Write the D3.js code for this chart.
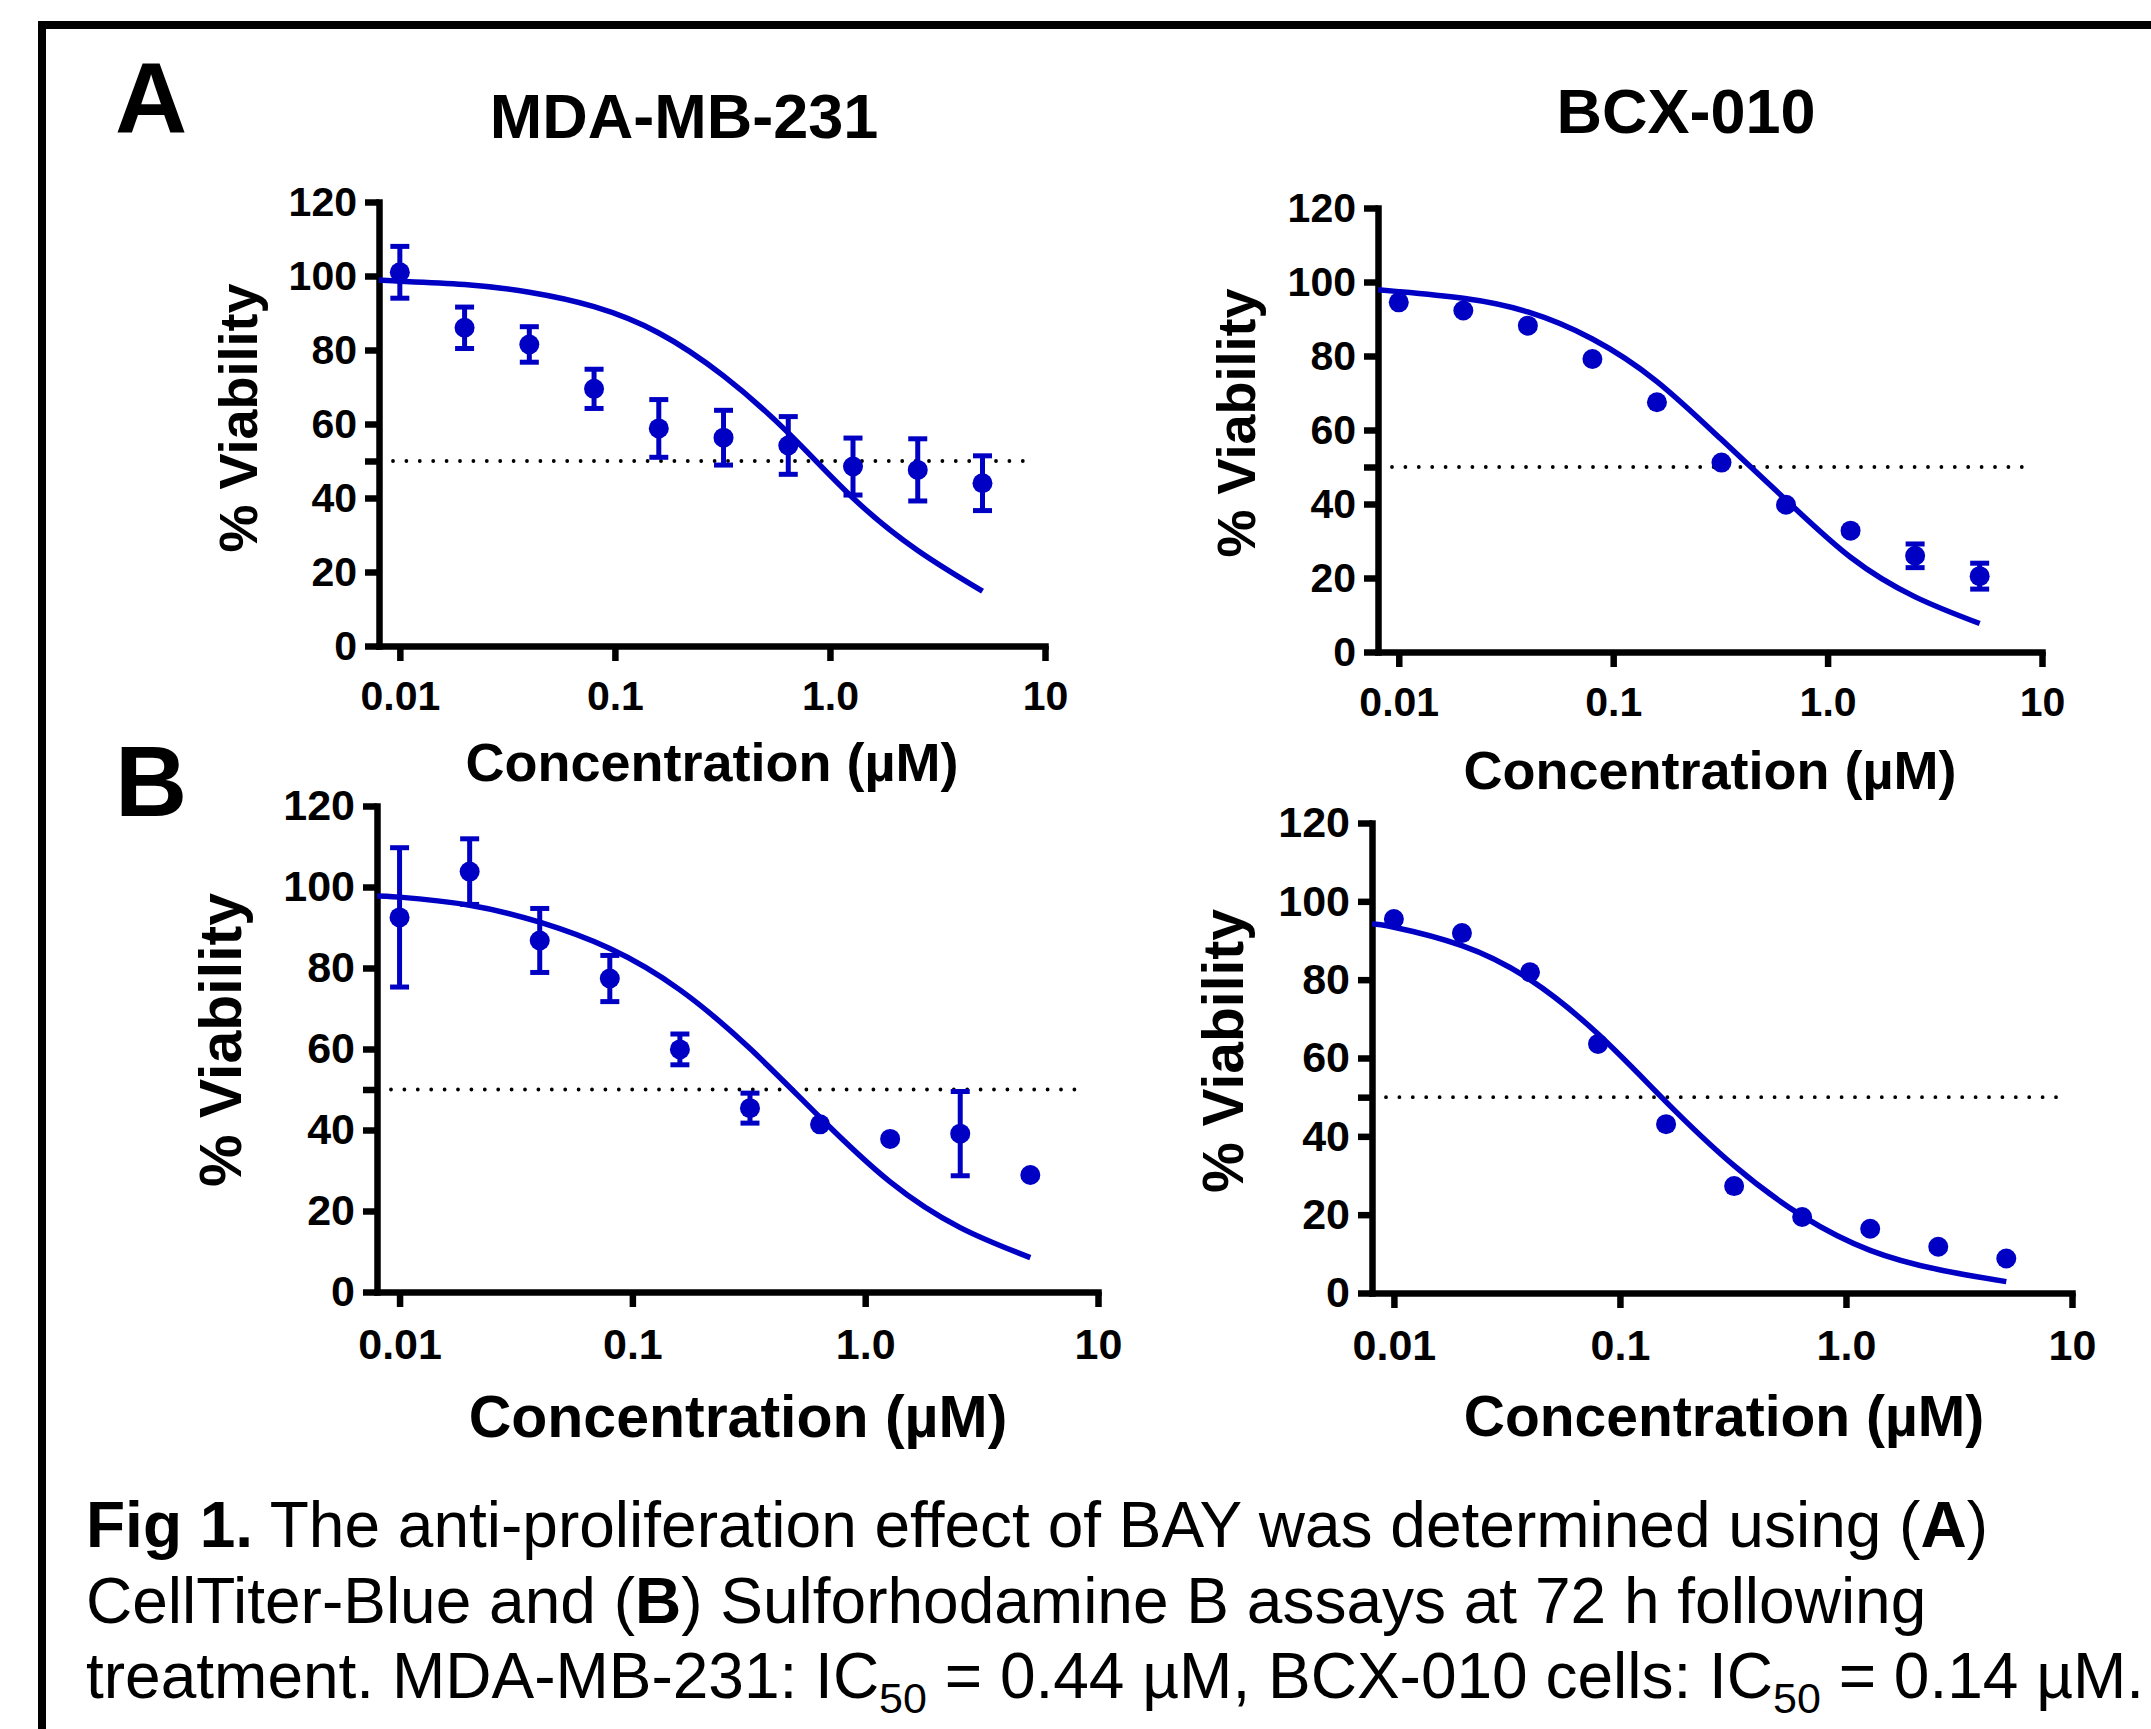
<!DOCTYPE html>
<html lang="en">
<head>
<meta charset="UTF-8">
<title>Fig 1. BAY anti-proliferation</title>
<script src="https://d3js.org/d3.v7.min.js"></script>
<style>
  body { margin: 0; background: #fff; }
  svg { display: block; font-family: "Liberation Sans", Arial, sans-serif; }
</style>
</head>
<body>
<div id="chart"></div>
<script>
// concentrations (uM), same dilution series in every panel
const conc = [0.01, 0.02, 0.04, 0.08, 0.16, 0.32, 0.64, 1.28, 2.56, 5.12];

// A: CellTiter-Blue
const mdaCtbMean = [101, 86, 81.5, 69.5, 58.8, 56.3, 54.2, 48.5, 47.6, 44];
const mdaCtbErr  = [7, 5.6, 4.8, 5.3, 7.8, 7.4, 7.8, 7.7, 8.4, 7.4];
const bcxCtbMean = [94.5, 92.3, 88.2, 79.2, 67.5, 51.2, 39.8, 32.8, 26, 20.5];
const bcxCtbErr  = [1.5, 1.5, 1.5, 1.5, 1.5, 1.5, 1.5, 1.5, 3.2, 3.5];
// B: Sulforhodamine B
const mdaSrbMean = [92.5, 103.8, 86.8, 77.4, 59.9, 45.4, 41.4, 37.8, 39.1, 28.9];
const mdaSrbErr  = [17.2, 8.1, 7.9, 5.7, 3.8, 3.7, 1.5, 1.5, 10.4, 1.5];
const bcxSrbMean = [95.5, 91.9, 81.9, 63.6, 43.1, 27.3, 19.4, 16.4, 11.8, 8.8];
const bcxSrbErr  = [1.5, 1.5, 1.5, 1.5, 1.5, 1.5, 1.5, 1.5, 1.5, 1.5];

// dose-response fits
const fitConc   = [0.008, 0.01, 0.02, 0.04, 0.08, 0.16, 0.32, 0.64, 1.28, 2.56, 5.12];
const mdaCtbFit = [98.9, 98.6, 97.7, 95.6, 91.7, 84.6, 73, 57.6, 40, 25.8, 14.8];
const bcxCtbFit = [97.9, 97.4, 95.6, 91.9, 84.6, 73.1, 57.4, 41.1, 25.6, 14.9, 7.7];
const mdaSrbFit = [97.8, 97.5, 95.5, 91.3, 84.8, 74.6, 60.1, 43.1, 27.2, 15.9, 8.5];
const bcxSrbFit = [94.2, 93.4, 88.7, 80, 66.1, 48.8, 32.5, 19.7, 10.9, 6, 2.9];

const xTicks = [0.01, 0.1, 1, 10];
const xTickLabels = ["0.01", "0.1", "1.0", "10"];
const yTicks = [0, 20, 40, 50, 60, 80, 100, 120];   // 50 has a tick but no label
const halfLine = 50;
const xDomain = [0.008, 10];
const dottedEnd = 9;

const W = 2151, H = 1729;
const blue = "#0000c4";
const dotR = 10;

const svg = d3.select("#chart").append("svg")
  .attr("width", W).attr("height", H);

// outer frame (cut off at right and bottom like the original)
svg.append("rect")
  .attr("x", 42).attr("y", 25)
  .attr("width", 2300).attr("height", 2000)
  .attr("fill", "none").attr("stroke", "#000").attr("stroke-width", 8);

const panels = [
  { mean: mdaCtbMean, err: mdaCtbErr, fit: mdaCtbFit, title: "MDA-MB-231",
    x0: 379, x1: 1045, yTop: 202, yBot: 646, tickFont: 41, labelFont: 54,
    titleX: 684, titleY: 138, xLab: [712, 781], yLab: [257, 418], xPad: 20 },
  { mean: bcxCtbMean, err: bcxCtbErr, fit: bcxCtbFit, title: "BCX-010",
    x0: 1378, x1: 2042, yTop: 208, yBot: 652, tickFont: 41, labelFont: 54,
    titleX: 1686, titleY: 133, xLab: [1710, 789], yLab: [1255, 423], xPad: 20 },
  { mean: mdaSrbMean, err: mdaSrbErr, fit: mdaSrbFit, title: null,
    x0: 377, x1: 1098, yTop: 806, yBot: 1292, tickFont: 43, labelFont: 59,
    xLab: [738, 1437], yLab: [241, 1040], xPad: 21 },
  { mean: bcxSrbMean, err: bcxSrbErr, fit: bcxSrbFit, title: null,
    x0: 1372, x1: 2072, yTop: 823, yBot: 1293, tickFont: 43, labelFont: 57,
    xLab: [1724, 1436], yLab: [1243, 1051], xPad: 21 }
];

function drawPanel(p) {
  const x = d3.scaleLog().domain(xDomain).range([p.x0, p.x1]);
  const y = d3.scaleLinear().domain([0, 120]).range([p.yBot, p.yTop]);
  const g = svg.append("g");

  // 50% reference line
  g.append("line")
    .attr("x1", x(xDomain[0]) + 14).attr("x2", x(dottedEnd))
    .attr("y1", y(halfLine)).attr("y2", y(halfLine))
    .attr("stroke", "#000").attr("stroke-width", 3.8)
    .attr("stroke-linecap", "round")
    .attr("stroke-dasharray", "0 13.4");

  // axes
  const yAxis = d3.axisLeft(y).tickValues(yTicks)
    .tickFormat(d => d === halfLine ? "" : d)
    .tickSize(14).tickSizeOuter(0).tickPadding(8);
  const xAxis = d3.axisBottom(x).tickValues(xTicks)
    .tickFormat((d, i) => xTickLabels[i])
    .tickSize(15).tickSizeOuter(0).tickPadding(p.xPad);

  const ya = g.append("g").attr("transform", `translate(${p.x0},0)`).call(yAxis);
  const xa = g.append("g").attr("transform", `translate(0,${p.yBot})`).call(xAxis);
  [ya, xa].forEach(a => {
    a.select(".domain").attr("stroke-width", 6.5).attr("stroke-linecap", "square");
    a.selectAll(".tick line").attr("stroke-width", 6.5);
    a.selectAll(".tick text")
      .attr("font-family", '"Liberation Sans", Arial, sans-serif')
      .attr("font-size", p.tickFont).attr("font-weight", "bold").attr("fill", "#000");
  });

  // fitted curve
  const line = d3.line()
    .x(d => x(d[0])).y(d => y(d[1]))
    .curve(d3.curveNatural);
  g.append("path")
    .datum(fitConc.map((c, i) => [c, p.fit[i]]))
    .attr("d", line)
    .attr("fill", "none").attr("stroke", blue).attr("stroke-width", 5.5);

  // error bars (hidden when shorter than the symbol)
  const pts = conc.map((c, i) => ({ c, m: p.mean[i], e: p.err[i] }));
  const bars = g.selectAll(".eb").data(pts.filter(d => y(d.m - d.e) - y(d.m) > dotR))
    .join("g").attr("class", "eb")
    .attr("stroke", blue).attr("stroke-width", 5);
  bars.append("line")
    .attr("x1", d => x(d.c)).attr("x2", d => x(d.c))
    .attr("y1", d => y(d.m + d.e)).attr("y2", d => y(d.m - d.e));
  bars.append("line")
    .attr("x1", d => x(d.c) - 9.5).attr("x2", d => x(d.c) + 9.5)
    .attr("y1", d => y(d.m + d.e)).attr("y2", d => y(d.m + d.e));
  bars.append("line")
    .attr("x1", d => x(d.c) - 9.5).attr("x2", d => x(d.c) + 9.5)
    .attr("y1", d => y(d.m - d.e)).attr("y2", d => y(d.m - d.e));

  // mean points
  g.selectAll(".pt").data(pts).join("circle").attr("class", "pt")
    .attr("cx", d => x(d.c)).attr("cy", d => y(d.m))
    .attr("r", dotR).attr("fill", blue);

  // labels
  g.append("text")
    .attr("x", p.xLab[0]).attr("y", p.xLab[1])
    .attr("text-anchor", "middle").attr("font-size", p.labelFont).attr("font-weight", "bold")
    .text("Concentration (µM)");
  g.append("text")
    .attr("transform", `translate(${p.yLab[0]},${p.yLab[1]}) rotate(-90)`)
    .attr("text-anchor", "middle").attr("font-size", p.labelFont).attr("font-weight", "bold")
    .text("% Viability");
  if (p.title) {
    g.append("text")
      .attr("x", p.titleX).attr("y", p.titleY)
      .attr("text-anchor", "middle").attr("font-size", 63).attr("font-weight", "bold")
      .text(p.title);
  }
}

panels.forEach(drawPanel);

// panel letters
svg.append("text").attr("x", 115).attr("y", 133)
  .attr("font-size", 100).attr("font-weight", "bold").text("A");
svg.append("text").attr("x", 115).attr("y", 816)
  .attr("font-size", 100).attr("font-weight", "bold").text("B");

// caption
const cap = svg.append("g").attr("font-size", 64).attr("fill", "#000");
const l1 = cap.append("text").attr("x", 86).attr("y", 1547);
l1.append("tspan").attr("font-weight", "bold").text("Fig 1.");
l1.append("tspan").text(" The anti-proliferation effect of BAY was determined using (");
l1.append("tspan").attr("font-weight", "bold").text("A");
l1.append("tspan").text(")");

const l2 = cap.append("text").attr("x", 86).attr("y", 1623);
l2.append("tspan").text("CellTiter-Blue and (");
l2.append("tspan").attr("font-weight", "bold").text("B");
l2.append("tspan").text(") Sulforhodamine B assays at 72 h following");

const l3 = cap.append("text").attr("x", 86).attr("y", 1698);
l3.append("tspan").text("treatment. MDA-MB-231: IC");
l3.append("tspan").attr("font-size", 43).attr("dy", 15).text("50");
l3.append("tspan").attr("dy", -15).text(" = 0.44 µM, BCX-010 cells: IC");
l3.append("tspan").attr("font-size", 43).attr("dy", 15).text("50");
l3.append("tspan").attr("dy", -15).text(" = 0.14 µM.");
</script>
</body>
</html>
